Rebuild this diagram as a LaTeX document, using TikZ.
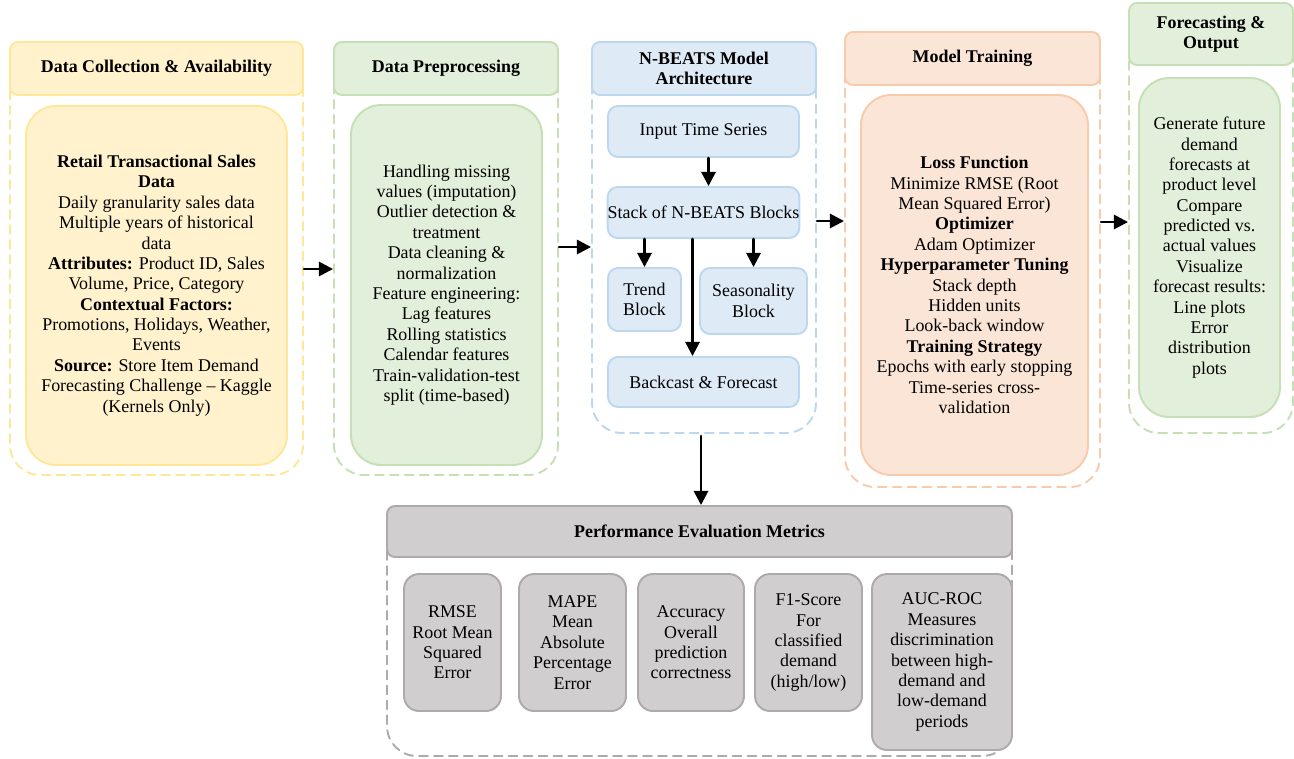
\documentclass[tikz,border=0pt]{standalone}
\usepackage{fontspec}
\setmainfont{Liberation Serif}
\usetikzlibrary{arrows.meta,calc}

\definecolor{ylfill}{HTML}{FFF2CC}
\definecolor{yldraw}{HTML}{FFE699}
\definecolor{grfill}{HTML}{E2EFDA}
\definecolor{grdraw}{HTML}{C5E0B4}
\definecolor{blfill}{HTML}{DEEBF7}
\definecolor{bldraw}{HTML}{BDD7EE}
\definecolor{orfill}{HTML}{FBE5D6}
\definecolor{ordraw}{HTML}{F8CBAD}
\definecolor{gyfill}{HTML}{D0CECE}
\definecolor{gydraw}{HTML}{AEAAAA}

\begin{document}
\begin{tikzpicture}[x=0.02cm,y=-0.02cm,line cap=round,line join=round,
  every node/.style={inner sep=0pt,align=center,font=\fontsize{10.2}{11.6}\selectfont},
  span/.style args={#1/#2/#3/#4}{at={({(#1+#3)/2},{(#2+#4)/2})},
    minimum width={(#3-#1)*0.02cm},minimum height={(#4-#2)*0.02cm}},
  frame/.style={draw=#1draw,line width=1.1pt,dash pattern=on 5pt off 3.5pt,rounded corners=0.6cm},
  head/.style={draw=#1draw,fill=#1fill,line width=1.1pt,rounded corners=0.16cm,font=\fontsize{10.2}{11.6}\selectfont\bfseries},
  panel/.style={draw=#1draw,fill=#1fill,line width=1.1pt,rounded corners=0.6cm},
  blk/.style={draw=bldraw,fill=blfill,line width=1.1pt,rounded corners=0.2cm},
  metric/.style={draw=gydraw,fill=gyfill,line width=1.1pt,rounded corners=0.3cm},
  arr/.style={line width=1.5pt,-{Triangle[length=8pt,width=8pt]}}]
  \useasboundingbox (0,0) rectangle (1294,758);

  % 数据收集
  \node[frame=yl,span=10/42/303/475] (c1) {};
  \node[head=yl,span=10/42/303/95] (h1) {Data Collection \& Availability};
  \node[panel=yl,span=26/106/287/465] (b1) {\textbf{Retail Transactional Sales}\\ \textbf{Data}\\ Daily granularity sales data\\ Multiple years of historical\\ data\\ \textbf{Attributes:} Product ID, Sales\\ Volume, Price, Category\\ \textbf{Contextual Factors:}\\ Promotions, Holidays, Weather,\\ Events\\ \textbf{Source:} Store Item Demand\\ Forecasting Challenge – Kaggle\\ (Kernels Only)};

  % 预处理
  \node[frame=gr,span=334/42/558/475] (c2) {};
  \node[head=gr,span=334/42/558/95] (h2) {Data Preprocessing};
  \node[panel=gr,span=351/105/542/465] (b2) {Handling missing\\ values (imputation)\\ Outlier detection \&\\ treatment\\ Data cleaning \&\\ normalization\\ Feature engineering:\\ Lag features\\ Rolling statistics\\ Calendar features\\ Train-validation-test\\ split (time-based)};

  % N-BEATS
  \node[frame=bl,span=592/42/816/433] (c3) {};
  \node[head=bl,span=592/42/816/95] (h3) {N-BEATS Model\\ Architecture};
  \node[blk,span=608/106/799/157] (in) {Input Time Series};
  \node[blk,span=608/187/799/238] (st) {Stack of N-BEATS Blocks};
  \node[blk,span=608/268/681/331] (tr) {Trend\\ Block};
  \node[blk,span=700/268/807/334] (se) {Seasonality\\ Block};
  \node[blk,span=608/357/799/407] (bf) {Backcast \& Forecast};
  \draw[arr] ($(in.south)+(5,0)$) -- ($(st.north)+(5,0)$);
  \draw[arr] (tr.north |- st.south) -- (tr.north);
  \draw[arr] (se.north |- st.south) -- (se.north);
  \draw[arr] ($(st.south)+(-11,0)$) -- ($(bf.north)+(-11,0)$);

  % 训练
  \node[frame=or,span=845/32/1100/487] (c4) {};
  \node[head=or,span=845/32/1100/85] (h4) {Model Training};
  \node[panel=or,span=861/95/1088/475] (b4) {\textbf{Loss Function}\\ Minimize RMSE (Root\\ Mean Squared Error)\\ \textbf{Optimizer}\\ Adam Optimizer\\ \textbf{Hyperparameter Tuning}\\ Stack depth\\ Hidden units\\ Look-back window\\ \textbf{Training Strategy}\\ Epochs with early stopping\\ Time-series cross-\\ validation};

  % 输出
  \node[frame=gr,span=1129/3/1293/433] (c5) {};
  \node[head=gr,span=1129/3/1293/65] (h5) {Forecasting \&\\ Output};
  \node[panel=gr,span=1139/78/1280/417] (b5) {Generate future\\ demand\\ forecasts at\\ product level\\ Compare\\ predicted vs.\\ actual values\\ Visualize\\ forecast results:\\ Line plots\\ Error\\ distribution\\ plots};

  % 评估指标
  \node[frame=gy,span=387/506/1012/756] (c6) {};
  \node[head=gy,span=387/506/1012/557] (h6) {Performance Evaluation Metrics};
  \node[metric,span=404/574/501/711] (m1) {RMSE\\ Root Mean\\ Squared\\ Error};
  \node[metric,span=519/574/626/711] (m2) {MAPE\\ Mean\\ Absolute\\ Percentage\\ Error};
  \node[metric,span=638/574/744/711] (m3) {Accuracy\\ Overall\\ prediction\\ correctness};
  \node[metric,span=755/574/862/711] (m4) {F1-Score\\ For\\ classified\\ demand\\ (high/low)};
  \node[metric,span=872/574/1012/750] (m5) {AUC-ROC\\ Measures\\ discrimination\\ between high-\\ demand and\\ low-demand\\ periods};

  % 箭头
  \coordinate (a12) at ($(c1.east)+(0,10.5)$);
  \coordinate (a23) at ($(c2.east)+(0,-11.5)$);
  \coordinate (a34) at ($(c3.east)+(0,-16.5)$);
  \coordinate (a45) at ($(c4.east)+(0,-37.5)$);
  \coordinate (a36) at ($(c3.south)+(-3,2)$);
  \draw[arr] (a12) -- (a12 -| c2.west);
  \draw[arr] (a23) -- (a23 -| c3.west);
  \draw[arr] (a34) -- (a34 -| c4.west);
  \draw[arr] (a45) -- (a45 -| c5.west);
  \draw[arr] (a36) -- (a36 |- h6.north);
\end{tikzpicture}
\end{document}
